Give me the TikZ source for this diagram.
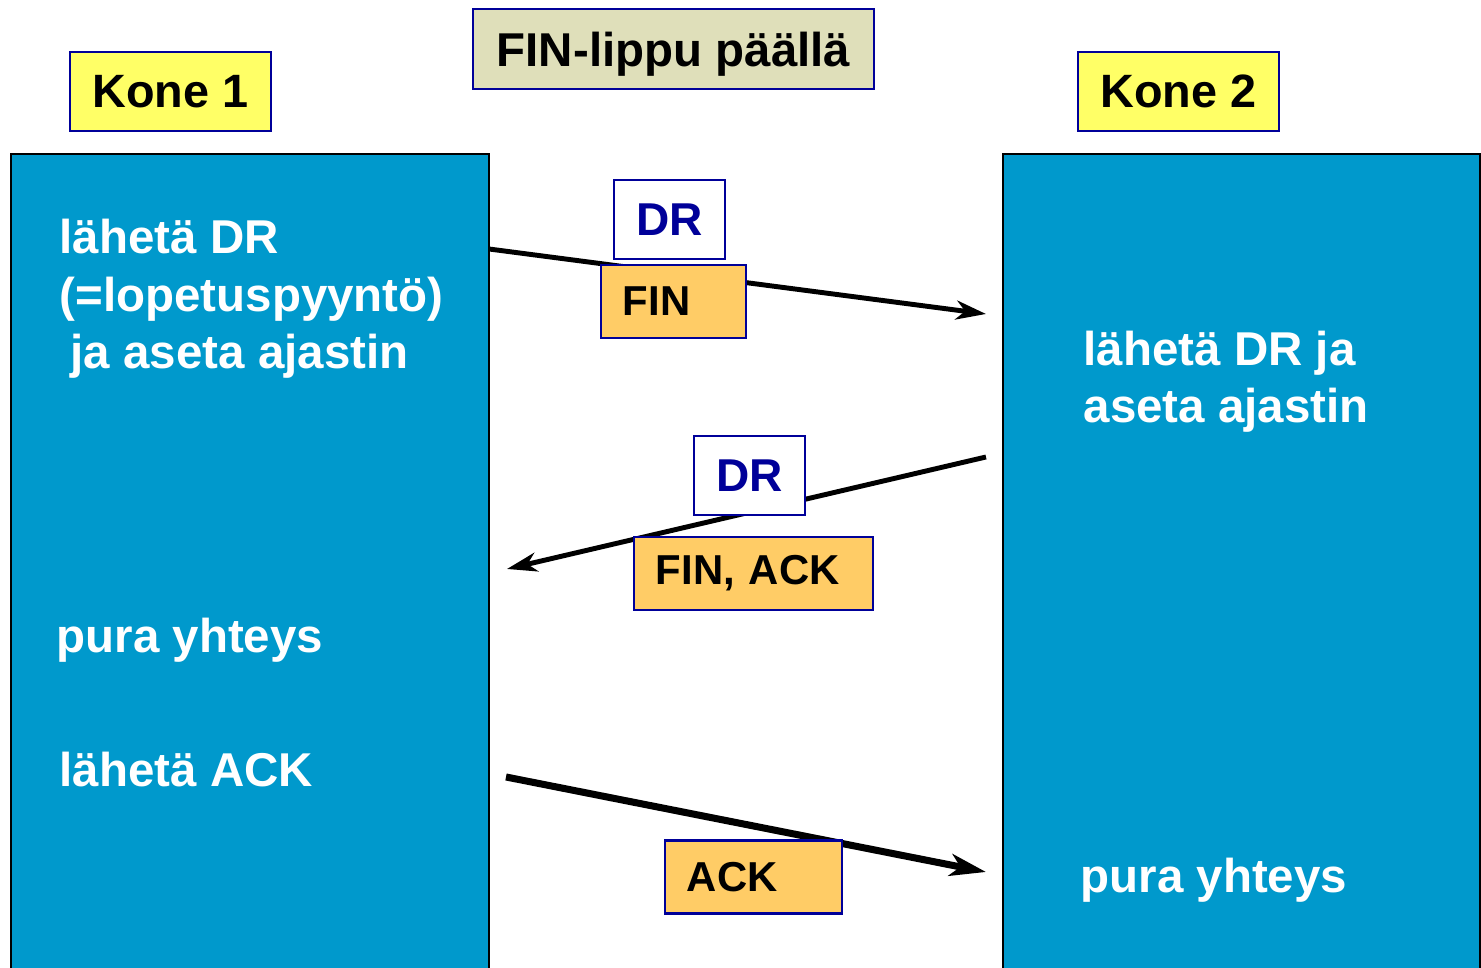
\documentclass[tikz,border=0pt]{standalone}
\usepackage{fontspec}
\setmainfont{Liberation Sans}
\usetikzlibrary{arrows.meta}
\definecolor{hostblue}{RGB}{0,153,204}
\definecolor{hostlabel}{RGB}{255,255,102}
\definecolor{flagbg}{RGB}{223,223,186}
\definecolor{segorange}{RGB}{255,204,102}
\definecolor{navy}{RGB}{0,0,153}
\tikzset{
  host/.style={draw=black, line width=0.6pt, fill=hostblue},
  hosttag/.style={draw=navy, line width=0.6pt, fill=hostlabel, minimum width=2.01cm, minimum height=0.79cm, inner sep=0pt, font=\fontsize{13.3}{16}\selectfont\bfseries},
  flagtag/.style={draw=navy, line width=0.6pt, fill=flagbg, minimum width=4.01cm, minimum height=0.80cm, inner sep=0pt, text height=0.35cm, text depth=0pt, font=\fontsize{13.5}{16}\selectfont\bfseries},
  drtag/.style={draw=navy, line width=0.6pt, fill=white, text=navy, minimum width=1.11cm, minimum height=0.79cm, inner sep=0pt, font=\fontsize{13.1}{16}\selectfont\bfseries},
  segtag/.style={draw=navy, line width=0.6pt, fill=segorange, align=left, inner xsep=0.22cm, inner ysep=0pt, minimum height=0.73cm, font=\fontsize{11.9}{14}\selectfont\bfseries},
  steptext/.style={text=white, inner sep=0pt, anchor=base west, font=\fontsize{13.5}{16.5}\selectfont\bfseries},
  msg/.style={line width=1.4pt, -{Stealth[length=0.3cm, width=0.19cm, inset=0.09cm]}},
  msgthick/.style={line width=2.0pt, -{Stealth[length=0.36cm, width=0.22cm, inset=0.1cm]}}
}
\begin{document}
\begin{tikzpicture}[x=0.01cm, y=-0.01cm]
\useasboundingbox (0,0) rectangle (1481,968);

% hosts
\draw[host] (11,154) rectangle (489,970);
\draw[host] (1003,154) rectangle (1480,970);
\coordinate (a1s) at (489,249);
\coordinate (a1e) at (986,314);
\coordinate (a2s) at (986,457);
\coordinate (a2e) at (507,569);
\coordinate (a3s) at (506,777);
\coordinate (a3e) at (986,872);

% headings
\node[hosttag] (kone1) at (170.5,91.5) {Kone 1};
\node[hosttag] (kone2) at (1178.5,91.5) {Kone 2};
\node[flagtag] (flag) at (673.5,49) {FIN-lippu päällä};

% messages
\draw[msg] (a1s) -- (a1e);
\draw[msg] (a2s) -- (a2e);
\draw[msgthick] (a3s) -- (a3e);

% segment labels
\node[drtag] (dr1) at (669.5,219.5) {DR};
\node[segtag, text width=1.01cm] (fin) at (673.5,301.5) {FIN};
\node[drtag] (dr2) at (749.5,475.5) {DR};
\node[segtag, text width=1.95cm] (finack) at (753.5,573.5) {FIN, ACK};
\node[segtag, text width=1.33cm] (ack) at (753.5,877) {ACK};

% Kone 1 steps
\node[steptext] (k1a) at (59,254) {lähetä DR};
\node[steptext] (k1b) at (59,312) {(=lopetuspyyntö)};
\node[steptext] (k1c) at (70,369) {ja aseta ajastin};
\node[steptext] (k1d) at (56,653) {pura yhteys};
\node[steptext] (k1e) at (59,787) {lähetä ACK};

% Kone 2 steps
\node[steptext] (k2a) at (1083,366) {lähetä DR ja};
\node[steptext] (k2b) at (1083,423) {aseta ajastin};
\node[steptext] (k2c) at (1080,893) {pura yhteys};
\end{tikzpicture}
\end{document}
